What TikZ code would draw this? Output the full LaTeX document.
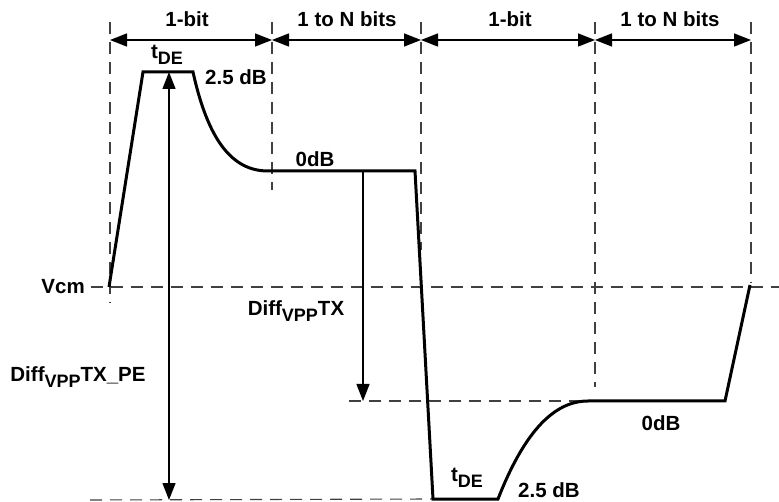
\documentclass[tikz,border=0pt]{standalone}
\usepackage{fontspec}
\setmainfont{Liberation Sans}
\usetikzlibrary{arrows.meta}
\newcommand{\lowtxt}[1]{\raisebox{-0.55ex}{\fontsize{18}{18}\selectfont #1}}

\begin{document}
\begin{tikzpicture}[x=1pt, y=-1pt,
    lbl/.style={inner sep=0pt, font=\fontsize{20.5}{22}\selectfont\bfseries},
    wave/.style={line width=3pt, line join=miter},
    guide/.style={line width=1.1pt, dash pattern=on 12pt off 8pt, black!75},
    dim/.style={line width=1.4pt, {Triangle[length=17pt,width=13pt]}-{Triangle[length=17pt,width=13pt]}},
    oneway/.style={line width=1.4pt, -{Triangle[length=17pt,width=13pt]}}]
  \useasboundingbox (0,0) rectangle (779,502);

  % bit boundaries
  \coordinate (b0) at (110, 40);
  \coordinate (b1) at (272, 40);
  \coordinate (b2) at (421, 40);
  \coordinate (b3) at (595, 40);
  \coordinate (b4) at (751, 40);
  \coordinate (t0) at (110, 22);
  \coordinate (t1) at (272, 22);
  \coordinate (t2) at (421, 22);
  \coordinate (t3) at (595, 22);
  \coordinate (t4) at (751, 22);
  \coordinate (e0) at (110, 303);
  \coordinate (e1) at (272, 190);
  \coordinate (e2) at (421, 250);
  \coordinate (e3) at (595, 387);
  \coordinate (e4) at (751, 283);

  % waveform points
  \coordinate (w0) at (109, 287);
  \coordinate (w1) at (143, 72);
  \coordinate (w2) at (193, 72);
  \coordinate (w3) at (268, 171);
  \coordinate (w4) at (415, 171);
  \coordinate (w5) at (433, 499);
  \coordinate (w6) at (498, 499);
  \coordinate (w7) at (588, 401);
  \coordinate (w8) at (725, 401);
  \coordinate (w9) at (750, 285);

  % reference levels
  \coordinate (vcmL) at (91, 287);
  \coordinate (vcmR) at (779, 287);
  \coordinate (lowL) at (349, 401);
  \coordinate (botL) at (90, 500);
  \coordinate (peTop) at (169, 72);
  \coordinate (peBot) at (169, 500);
  \coordinate (txTop) at (363, 171);
  \coordinate (txBot) at (363, 401);

  \node [lbl] (bitA) at (187, 19) {1-bit};
  \node [lbl] (runA) at (347, 19) {1 to N bits};
  \node [lbl] (bitB) at (510, 19) {1-bit};
  \node [lbl] (runB) at (670, 19) {1 to N bits};
  \node [lbl] (tdeA) at (167, 55) {t\lowtxt{DE}};
  \node [lbl] (peakA) at (236, 77) {2.5 dB};
  \node [lbl] (flatA) at (315, 159) {0dB};
  \node [lbl, anchor=east] (vcm) at (85, 287) {Vcm};
  \node [lbl] (difftx) at (296, 311) {Diff\lowtxt{VPP}TX};
  \node [lbl] (diffpe) at (78, 377) {Diff\lowtxt{VPP}TX\_PE};
  \node [lbl] (flatB) at (661, 423) {0dB};
  \node [lbl] (tdeB) at (467, 478) {t\lowtxt{DE}};
  \node [lbl] (peakB) at (549, 490) {2.5 dB};

  \draw [guide] (t0) -- (e0);
  \draw [guide] (t1) -- (e1);
  \draw [guide] (t2) -- (e2);
  \draw [guide] (t3) -- (e3);
  \draw [guide] (t4) -- (e4);
  \draw [guide] (vcmL) -- (vcmR);
  \draw [guide] (lowL) -- (w7);
  \draw [guide] (botL) -- (w5);

  \draw [dim] (b0) -- (b1);
  \draw [dim] (b1) -- (b2);
  \draw [dim] (b2) -- (b3);
  \draw [dim] (b3) -- (b4);
  \draw [dim] (peBot) -- (peTop);
  \draw [oneway] (txTop) -- (txBot);

  \draw [wave] (w0) -- (w1) -- (w2)
    .. controls (208, 140) and (232, 171) .. (w3) -- (w4) -- (w5) -- (w6)
    .. controls (525, 430) and (555, 401) .. (w7) -- (w8) -- (w9);
\end{tikzpicture}
\end{document}
